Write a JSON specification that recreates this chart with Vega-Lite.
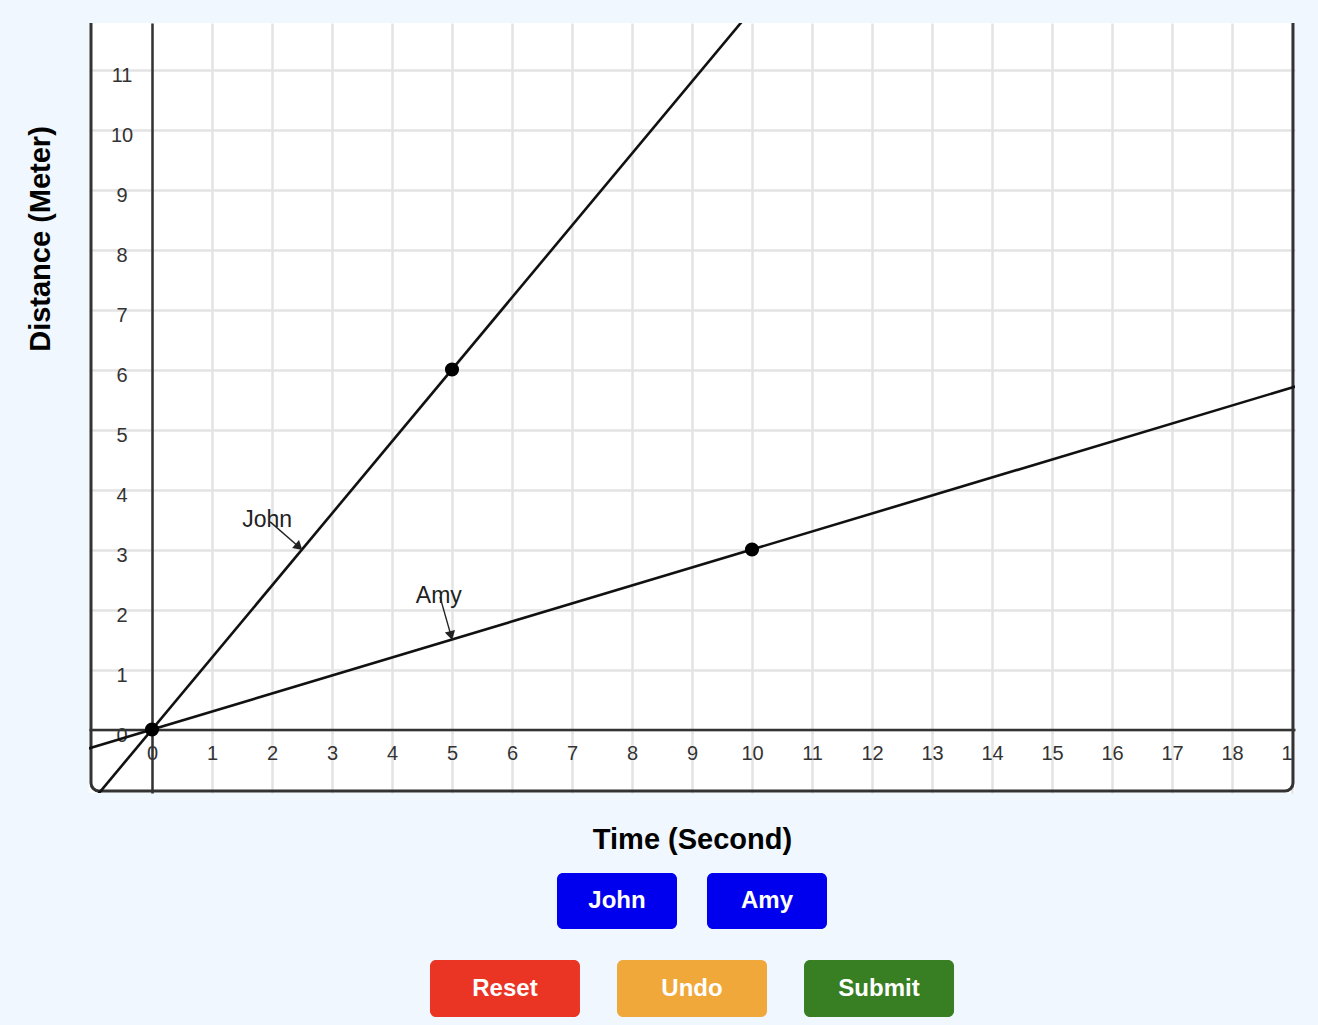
{
  "$schema": "https://vega.github.io/schema/vega-lite/v6.json",
  "width": 1206,
  "height": 770,
  "autosize": {"type": "none"},
  "padding": {"left": 89, "top": 23, "right": 23, "bottom": 232},
  "background": "#f0f7fe",
  "config": {"view": {"fill": "white", "stroke": null}, "font": "Liberation Sans"},
  "datasets": {
    "frame": [{"t": -1.0167, "t2": 19.0167, "d": -1.025, "d2": 12.5}],
    "lines": [
      {"who": "John", "t": -1, "d": -1.2},
      {"who": "John", "t": 10, "d": 12},
      {"who": "Amy", "t": -1.1, "d": -0.33},
      {"who": "Amy", "t": 19.1, "d": 5.73}
    ],
    "points": [
      {"t": 0, "d": 0},
      {"t": 5, "d": 6},
      {"t": 10, "d": 3}
    ],
    "arrows": [
      {"who": "John", "t": 1.97, "d": 3.46, "t2": 2.45, "d2": 3.043},
      {"who": "Amy", "t": 4.8, "d": 2.21, "t2": 4.984, "d2": 1.565}
    ],
    "notes": [
      {"label": "John", "t": 1.92, "d": 3.37},
      {"label": "Amy", "t": 4.78, "d": 2.108}
    ],
    "buttons": [
      {"btn": "John", "t": 6.75, "t2": 8.75, "d": -2.392, "d2": -3.325},
      {"btn": "Amy", "t": 9.25, "t2": 11.25, "d": -2.392, "d2": -3.325},
      {"btn": "Reset", "t": 4.633, "t2": 7.133, "d": -3.842, "d2": -4.792},
      {"btn": "Undo", "t": 7.75, "t2": 10.25, "d": -3.842, "d2": -4.792},
      {"btn": "Submit", "t": 10.867, "t2": 13.367, "d": -3.842, "d2": -4.792}
    ],
    "buttonText": [
      {"btn": "John", "t": 7.75, "d": -2.858},
      {"btn": "Amy", "t": 10.25, "d": -2.858},
      {"btn": "Reset", "t": 5.883, "d": -4.317},
      {"btn": "Undo", "t": 9.0, "d": -4.317},
      {"btn": "Submit", "t": 12.117, "d": -4.317}
    ]
  },
  "encoding": {
    "x": {
      "field": "t",
      "type": "quantitative",
      "scale": {"domain": [-1.05, 19.05], "nice": false, "zero": false},
      "axis": {
        "title": "Time (Second)",
        "orient": "bottom",
        "offset": -63.5,
        "zindex": 0,
        "values": [0, 1, 2, 3, 4, 5, 6, 7, 8, 9, 10, 11, 12, 13, 14, 15, 16, 17, 18, 19],
        "grid": true,
        "gridColor": "#e3e3e3",
        "gridWidth": 2.5,
        "domain": true,
        "domainColor": "#333333",
        "domainWidth": 2.5,
        "ticks": false,
        "tickSize": 0,
        "labelPadding": 14,
        "labelFont": "Liberation Sans",
        "labelFontSize": 20,
        "labelColor": "#333333",
        "labelExpr": "datum.value == 19 ? '1' : datum.label",
        "labelAlign": {"condition": {"test": "datum.value == 19", "value": "right"}, "value": "center"},
        "labelOverlap": false,
        "titleFont": "Liberation Sans",
        "titleFontSize": 29,
        "titleFontWeight": "bold",
        "titleColor": "#000000",
        "titleBaseline": "alphabetic",
        "titleY": 118.5
      }
    },
    "y": {
      "field": "d",
      "type": "quantitative",
      "scale": {"domain": [-1.0583, 11.775], "nice": false, "zero": false},
      "axis": {
        "title": "Distance (Meter)",
        "orient": "left",
        "offset": -63,
        "zindex": 0,
        "values": [0, 1, 2, 3, 4, 5, 6, 7, 8, 9, 10, 11],
        "grid": true,
        "gridColor": "#e3e3e3",
        "gridWidth": 2.5,
        "domain": true,
        "domainColor": "#333333",
        "domainWidth": 2.5,
        "ticks": false,
        "tickSize": 0,
        "labelPadding": 30.5,
        "labelAlign": "center",
        "labelBaseline": "middle",
        "labelOffset": 6,
        "labelFont": "Liberation Sans",
        "labelFontSize": 20,
        "labelColor": "#333333",
        "labelOverlap": false,
        "titleFont": "Liberation Sans",
        "titleFontSize": 29,
        "titleFontWeight": "bold",
        "titleColor": "#000000",
        "titleAngle": -90,
        "titleBaseline": "middle",
        "titleAlign": "center",
        "titleX": -111.5,
        "titleY": 215.5
      }
    }
  },
  "layer": [
    {
      "data": {"name": "frame"},
      "mark": {"type": "rect", "filled": false, "stroke": "#333333", "strokeWidth": 3, "cornerRadius": 8, "clip": true},
      "encoding": {"x2": {"field": "t2"}, "y2": {"field": "d2"}}
    },
    {
      "data": {"name": "lines"},
      "mark": {"type": "line", "color": "#111111", "strokeWidth": 2.6, "clip": true},
      "encoding": {"detail": {"field": "who", "type": "nominal"}}
    },
    {
      "data": {"name": "arrows"},
      "mark": {"type": "rule", "color": "#222222", "strokeWidth": 1.4},
      "encoding": {"x2": {"field": "t2"}, "y2": {"field": "d2"}}
    },
    {
      "data": {"name": "arrows"},
      "transform": [{"filter": "datum.who == 'John'"}],
      "mark": {"type": "point", "shape": "triangle-down", "filled": true, "color": "#222222", "size": 110, "angle": 311, "opacity": 1},
      "encoding": {"x": {"field": "t2", "type": "quantitative"}, "y": {"field": "d2", "type": "quantitative"}}
    },
    {
      "data": {"name": "arrows"},
      "transform": [{"filter": "datum.who == 'Amy'"}],
      "mark": {"type": "point", "shape": "triangle-down", "filled": true, "color": "#222222", "size": 110, "angle": 346, "opacity": 1},
      "encoding": {"x": {"field": "t2", "type": "quantitative"}, "y": {"field": "d2", "type": "quantitative"}}
    },
    {
      "data": {"name": "points"},
      "mark": {"type": "point", "shape": "circle", "filled": true, "color": "#000000", "size": 200, "opacity": 1}
    },
    {
      "data": {"name": "notes"},
      "mark": {"type": "text", "fontSize": 23, "color": "#222222", "align": "center", "baseline": "alphabetic", "font": "Liberation Sans"},
      "encoding": {"text": {"field": "label"}}
    },
    {
      "data": {"name": "buttons"},
      "mark": {"type": "rect", "cornerRadius": 6, "clip": false, "opacity": 1},
      "encoding": {
        "x2": {"field": "t2"},
        "y2": {"field": "d2"},
        "color": {
          "field": "btn",
          "type": "nominal",
          "scale": {"domain": ["John", "Amy", "Reset", "Undo", "Submit"], "range": ["#0000ee", "#0000ee", "#ea3424", "#f0a83b", "#377f22"]},
          "legend": null
        }
      }
    },
    {
      "data": {"name": "buttonText"},
      "mark": {"type": "text", "fontSize": 24, "fontWeight": "bold", "color": "#ffffff", "align": "center", "baseline": "middle", "font": "Liberation Sans", "clip": false},
      "encoding": {"text": {"field": "btn"}}
    }
  ]
}
